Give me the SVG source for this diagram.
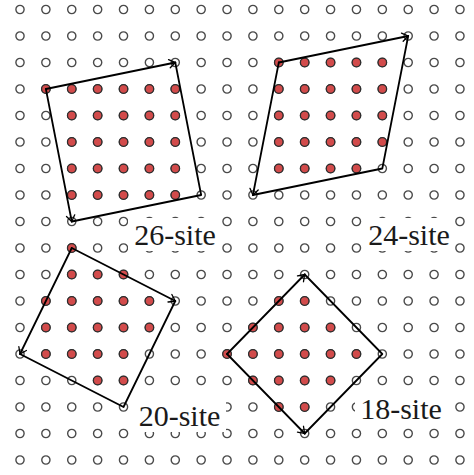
<svg xmlns="http://www.w3.org/2000/svg" width="474" height="475" viewBox="0 0 474 475">
<style>
.o{fill:#fff;stroke:#4a4a4a;stroke-width:1.4}
.r{fill:#d24b4b;stroke:#2e2e2e;stroke-width:1.3}
.e{fill:none;stroke:#000;stroke-width:1.8;stroke-linecap:round;stroke-linejoin:round}
.bx{fill:#fff;stroke:none}
.t{font-family:'Liberation Serif',serif;font-size:30px;fill:#1a1a1a;text-anchor:middle}
</style>
<defs>
<circle id="oc" class="o" r="4.1"/>
<circle id="rc" class="r" r="4.3"/>
<marker id="ah" markerUnits="userSpaceOnUse" viewBox="-8 -6 10 12" markerWidth="10" markerHeight="12" refX="0" refY="0" orient="auto">
<path d="M-6,-4.2 Q-1.5,-1 0,0 Q-1.5,1 -6,4.2" fill="none" stroke="#000" stroke-width="1.3" stroke-linecap="round"/>
</marker>
<g id="row">
<use href="#oc" x="20" y="0"/><use href="#oc" x="45.88" y="0"/><use href="#oc" x="71.76" y="0"/><use href="#oc" x="97.64" y="0"/><use href="#oc" x="123.52" y="0"/><use href="#oc" x="149.4" y="0"/><use href="#oc" x="175.28" y="0"/><use href="#oc" x="201.16" y="0"/><use href="#oc" x="227.04" y="0"/><use href="#oc" x="252.92" y="0"/><use href="#oc" x="278.8" y="0"/><use href="#oc" x="304.68" y="0"/><use href="#oc" x="330.56" y="0"/><use href="#oc" x="356.44" y="0"/><use href="#oc" x="382.32" y="0"/><use href="#oc" x="408.2" y="0"/><use href="#oc" x="434.08" y="0"/><use href="#oc" x="459.96" y="0"/>
</g>
</defs>
<rect width="474" height="475" fill="#fff"/>
<g id="grid">
<use href="#row" y="9.5"/><use href="#row" y="36"/><use href="#row" y="62.5"/><use href="#row" y="89"/><use href="#row" y="115.5"/><use href="#row" y="142"/><use href="#row" y="168.5"/><use href="#row" y="195"/><use href="#row" y="221.5"/><use href="#row" y="248"/><use href="#row" y="274.5"/><use href="#row" y="301"/><use href="#row" y="327.5"/><use href="#row" y="354"/><use href="#row" y="380.5"/><use href="#row" y="407"/><use href="#row" y="433.5"/><use href="#row" y="460"/>
</g>
<g id="labels">
<g id="label-26"><rect class="bx" x="128" y="218" width="94" height="33"/><text class="t" x="175" y="245">26-site</text></g>
<g id="label-24"><rect class="bx" x="362" y="218" width="93" height="33"/><text class="t" x="409" y="245">24-site</text></g>
<g id="label-20"><rect class="bx" x="132" y="399" width="94" height="33"/><text class="t" x="179.5" y="426">20-site</text></g>
<g id="label-18"><rect class="bx" x="355" y="392" width="92" height="33"/><text class="t" x="401" y="419">18-site</text></g>
</g>
<g id="cluster-26">
<use href="#rc" x="45.88" y="89"/>
<use href="#rc" x="71.76" y="89"/><use href="#rc" x="97.64" y="89"/><use href="#rc" x="123.52" y="89"/><use href="#rc" x="149.4" y="89"/><use href="#rc" x="175.28" y="89"/>
<use href="#rc" x="71.76" y="115.5"/><use href="#rc" x="97.64" y="115.5"/><use href="#rc" x="123.52" y="115.5"/><use href="#rc" x="149.4" y="115.5"/><use href="#rc" x="175.28" y="115.5"/>
<use href="#rc" x="71.76" y="142"/><use href="#rc" x="97.64" y="142"/><use href="#rc" x="123.52" y="142"/><use href="#rc" x="149.4" y="142"/><use href="#rc" x="175.28" y="142"/>
<use href="#rc" x="71.76" y="168.5"/><use href="#rc" x="97.64" y="168.5"/><use href="#rc" x="123.52" y="168.5"/><use href="#rc" x="149.4" y="168.5"/><use href="#rc" x="175.28" y="168.5"/>
<use href="#rc" x="71.76" y="195"/><use href="#rc" x="97.64" y="195"/><use href="#rc" x="123.52" y="195"/><use href="#rc" x="149.4" y="195"/><use href="#rc" x="175.28" y="195"/>
</g>
<g id="cluster-24">
<use href="#rc" x="278.8" y="62.5"/><use href="#rc" x="304.68" y="62.5"/><use href="#rc" x="330.56" y="62.5"/><use href="#rc" x="356.44" y="62.5"/><use href="#rc" x="382.32" y="62.5"/>
<use href="#rc" x="278.8" y="89"/><use href="#rc" x="304.68" y="89"/><use href="#rc" x="330.56" y="89"/><use href="#rc" x="356.44" y="89"/><use href="#rc" x="382.32" y="89"/>
<use href="#rc" x="278.8" y="115.5"/><use href="#rc" x="304.68" y="115.5"/><use href="#rc" x="330.56" y="115.5"/><use href="#rc" x="356.44" y="115.5"/><use href="#rc" x="382.32" y="115.5"/>
<use href="#rc" x="278.8" y="142"/><use href="#rc" x="304.68" y="142"/><use href="#rc" x="330.56" y="142"/><use href="#rc" x="356.44" y="142"/><use href="#rc" x="382.32" y="142"/>
<use href="#rc" x="278.8" y="168.5"/><use href="#rc" x="304.68" y="168.5"/><use href="#rc" x="330.56" y="168.5"/><use href="#rc" x="356.44" y="168.5"/>
</g>
<g id="cluster-20">
<use href="#rc" x="71.76" y="248"/>
<use href="#rc" x="71.76" y="274.5"/><use href="#rc" x="97.64" y="274.5"/><use href="#rc" x="123.52" y="274.5"/>
<use href="#rc" x="45.88" y="301"/><use href="#rc" x="71.76" y="301"/><use href="#rc" x="97.64" y="301"/><use href="#rc" x="123.52" y="301"/><use href="#rc" x="149.4" y="301"/>
<use href="#rc" x="45.88" y="327.5"/><use href="#rc" x="71.76" y="327.5"/><use href="#rc" x="97.64" y="327.5"/><use href="#rc" x="123.52" y="327.5"/><use href="#rc" x="149.4" y="327.5"/>
<use href="#rc" x="45.88" y="354"/><use href="#rc" x="71.76" y="354"/><use href="#rc" x="97.64" y="354"/><use href="#rc" x="123.52" y="354"/>
<use href="#rc" x="97.64" y="380.5"/><use href="#rc" x="123.52" y="380.5"/>
</g>
<g id="cluster-18">
<use href="#rc" x="278.8" y="301"/><use href="#rc" x="304.68" y="301"/>
<use href="#rc" x="252.92" y="327.5"/><use href="#rc" x="278.8" y="327.5"/><use href="#rc" x="304.68" y="327.5"/><use href="#rc" x="330.56" y="327.5"/>
<use href="#rc" x="227.04" y="354"/><use href="#rc" x="252.92" y="354"/><use href="#rc" x="278.8" y="354"/><use href="#rc" x="304.68" y="354"/><use href="#rc" x="330.56" y="354"/><use href="#rc" x="356.44" y="354"/>
<use href="#rc" x="252.92" y="380.5"/><use href="#rc" x="278.8" y="380.5"/><use href="#rc" x="304.68" y="380.5"/><use href="#rc" x="330.56" y="380.5"/>
<use href="#rc" x="278.8" y="407"/><use href="#rc" x="304.68" y="407"/>
</g>
<g id="connectors">
<line class="e" x1="45.88" y1="89" x2="175.28" y2="62.5" marker-end="url(#ah)"/>
<line class="e" x1="45.88" y1="89" x2="71.76" y2="221.5" marker-end="url(#ah)"/>
<polyline class="e" points="175.28,62.5 201.16,195 71.76,221.5"/>
<line class="e" x1="278.8" y1="62.5" x2="408.2" y2="36" marker-end="url(#ah)"/>
<line class="e" x1="278.8" y1="62.5" x2="252.92" y2="195" marker-end="url(#ah)"/>
<polyline class="e" points="408.2,36 382.32,168.5 252.92,195"/>
<line class="e" x1="71.76" y1="248" x2="175.28" y2="301" marker-end="url(#ah)"/>
<line class="e" x1="71.76" y1="248" x2="20" y2="354" marker-end="url(#ah)"/>
<polyline class="e" points="175.28,301 123.52,407 20,354"/>
<line class="e" x1="227.04" y1="354" x2="304.68" y2="274.5" marker-end="url(#ah)"/>
<line class="e" x1="227.04" y1="354" x2="304.68" y2="433.5" marker-end="url(#ah)"/>
<polyline class="e" points="304.68,274.5 382.32,354 304.68,433.5"/>
</g>
</svg>
